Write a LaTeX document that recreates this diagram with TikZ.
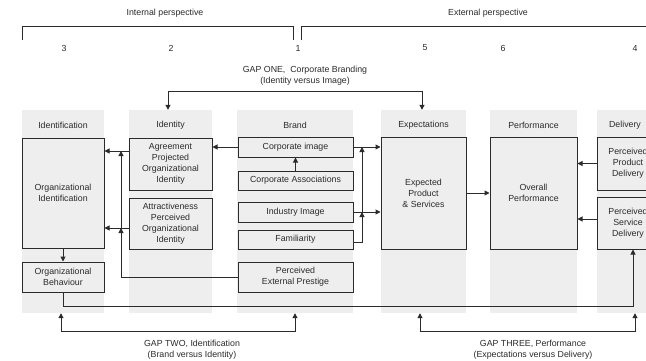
\documentclass[tikz,border=0pt]{standalone}
\usepackage{fontspec}
\setmainfont{Liberation Sans}
\usetikzlibrary{arrows.meta}
\definecolor{ink}{HTML}{2B2B2B}
\definecolor{panel}{HTML}{EEEEEE}
\tikzset{
  txt/.style={text=ink, font=\fontsize{8.8}{11}\selectfont, align=center, inner sep=0pt},
  colbg/.style={fill=panel, draw=none, inner sep=0pt},
  box/.style={txt, draw=ink, fill=panel, line width=1pt},
  line/.style={draw=ink, line width=1pt},
  arr/.style={line, -{Triangle[length=5pt,width=5pt]}},
  darr/.style={line, {Triangle[length=5pt,width=5pt]}-{Triangle[length=5pt,width=5pt]}},
}
\begin{document}
\begin{tikzpicture}[x=1pt,y=-1pt]
\useasboundingbox (0,0) rectangle (646,361);
\clip (0,0) rectangle (646,361);
\fill[white] (0,0) rectangle (646,361);

% perspective brackets
\node[txt] (intp) at (165,13) {Internal perspective};
\node[txt] (extp) at (488,13) {External perspective};
\draw[line] (22.5,40) -- (22.5,27) -- (293,27) -- (293,40);
\draw[line] (301.5,40) -- (301.5,27) -- (660,27);

% column numbers
\node[txt] (n3) at (64,48) {3};
\node[txt] (n2) at (171,48) {2};
\node[txt] (n1) at (298,48) {1};
\node[txt] (n5) at (425,48) {5};
\node[txt] (n6) at (503,48) {6};
\node[txt] (n4) at (635,48) {4};

% column panels
\node[colbg, minimum width=82pt, minimum height=203pt] (cId) at (63,211.5) {};
\node[colbg, minimum width=83pt, minimum height=203pt] (cIdt) at (170.5,211.5) {};
\node[colbg, minimum width=116pt, minimum height=203pt] (cBr) at (295,211.5) {};
\node[colbg, minimum width=85pt, minimum height=203pt] (cEx) at (423.5,211.5) {};
\node[colbg, minimum width=87pt, minimum height=203pt] (cPf) at (533.5,211.5) {};
\node[colbg, minimum width=76pt, minimum height=203pt] (cDl) at (635,211.5) {};

% column headings
\node[txt] (hId) at (63,125) {Identification};
\node[txt] (hIdt) at (170.5,125) {Identity};
\node[txt] (hBr) at (295,125) {Brand};
\node[txt] (hEx) at (423.5,125) {Expectations};
\node[txt] (hPf) at (533.5,125) {Performance};
\node[txt] (hDl) at (625,125) {Delivery};

% boxes
\node[box, minimum width=82pt, minimum height=110pt] (oi) at (63,193) {Organizational\\Identification};
\node[box, minimum width=82pt, minimum height=30pt] (ob) at (63,277) {Organizational\\Behaviour};
\node[box, minimum width=83pt, minimum height=52pt] (apoi) at (170.5,164) {Agreement\\Projected\\Organizational\\Identity};
\node[box, minimum width=83pt, minimum height=51pt] (attr) at (170.5,223.5) {Attractiveness\\Perceived\\Organizational\\Identity};
\node[box, minimum width=115pt, minimum height=20pt] (ci) at (295.5,147) {Corporate image};
\node[box, minimum width=115pt, minimum height=19pt] (ca) at (295.5,180.5) {Corporate Associations};
\node[box, minimum width=115pt, minimum height=20pt] (ii) at (295.5,212) {Industry Image};
\node[box, minimum width=115pt, minimum height=19pt] (fam) at (295.5,239.5) {Familiarity};
\node[box, minimum width=115pt, minimum height=30pt] (pep) at (295.5,277) {Perceived\\External Prestige};
\node[box, minimum width=85pt, minimum height=112pt] (eps) at (423.5,193) {Expected\\Product\\\& Services};
\node[box, minimum width=87pt, minimum height=112pt] (op) at (533.5,193) {Overall\\Performance};
\node[box, minimum width=62pt, minimum height=53pt] (ppd) at (628,163.5) {Perceived\\Product\\Delivery};
\node[box, minimum width=62pt, minimum height=52pt] (psd) at (628,223) {Perceived\\Service\\Delivery};

% identity to identification
\draw[arr] (ci.west) -- (ci.west -| apoi.east);
\draw[arr] ([yshift=13pt]apoi.west) coordinate (a1) -- (a1 -| oi.east);
\draw[arr] ([yshift=-4.5pt]attr.west) coordinate (a2) -- (a2 -| oi.east);
\coordinate (vl) at (121,0);
\draw[arr] (pep.west) -| (vl |- a2);
\draw[arr] (vl |- a2) -- (vl |- a1);
\draw[arr] (oi.south) -- (ob.north);

% brand to expectations
\draw[arr] (ca.north) -- (ci.south);
\draw[arr] (ci.east) -- (ci.east -| eps.west);
\draw[arr] (ii.east) -- (ii.east -| eps.west);
\coordinate (vr) at (362,0);
\draw[arr] ([yshift=-3pt]fam.east) -| (vr |- ii.east);
\draw[arr] (vr |- ii.east) -- (vr |- ci.east);

% expectations, performance, delivery
\draw[arr] (eps.east) -- (op.west);
\draw[arr] (ppd.west) -- (ppd.west -| op.east);
\draw[arr] ([yshift=4pt]psd.west) coordinate (d2) -- (d2 -| op.east);
\coordinate (lowline) at (0,306);
\coordinate (psdin) at (633,0);
\draw[arr] (ob.south) |- (lowline -| psdin) -- (psdin |- psd.south);

% gap one
\draw[darr] ([xshift=-2.5pt]cIdt.north) -- ++(0,-18) coordinate (g1) -| ([xshift=-1.5pt]cEx.north);
\node[txt] (gap1) at (305,76) {GAP ONE,\ \ Corporate Branding\\(Identity versus Image)};

% gap two
\draw[darr] ([xshift=-2pt]cId.south) -- ++(0,18) -| (cBr.south);
\node[txt] (gap2) at (192,349.5) {GAP TWO, Identification\\(Brand versus Identity)};

% gap three
\draw[darr] ([xshift=-3.5pt]cEx.south) -- ++(0,18) -| (cDl.south);
\node[txt] (gap3) at (533,349.5) {GAP THREE, Performance\\(Expectations versus Delivery)};
\end{tikzpicture}
\end{document}
